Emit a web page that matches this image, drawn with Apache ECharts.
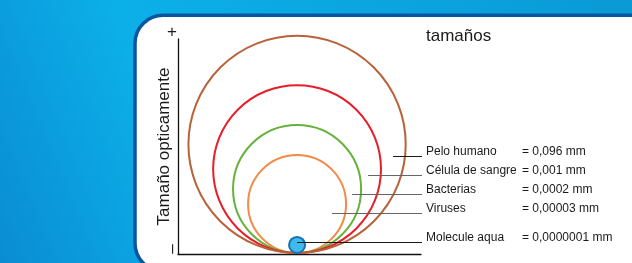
<!DOCTYPE html>
<html>
<head>
<meta charset="utf-8">
<script src="https://cdn.jsdelivr.net/npm/echarts@6/dist/echarts.min.js"></script>
<style>
    html, body { margin: 0; padding: 0; }
    #chart { width: 632px; height: 263px; }
</style>
</head>
<body>
<div id="chart"></div>
<script>
// datos
const categories = ['Pelo humano', 'Célula de sangre', 'Bacterias', 'Viruses', 'Molecule aqua'];
const measures = ['= 0,096 mm', '= 0,001 mm', '= 0,0002 mm', '= 0,00003 mm', '= 0,0000001 mm'];
// diametro visual (escala relativa 0-100 del eje "Tamaño")
const diameters = [102, 79, 60.5, 46.5, 8.4];
const axisEnds = ['–', '+'];

// layout de las lineas guia (unidades del eje)
const centerX = 49;
const leaderY = [45.4, 36.7, 27.9, 19.2, 5.8];
const leaderStartX = [88.5, 78.2, 71.6, 63.4, centerX];
const leaderEndX = 100;

const font = '"Liberation Sans", Arial, sans-serif';
const circleStyle = [
    { stroke: '#b8623a', fill: 'none' },
    { stroke: '#e61e2a', fill: 'none' },
    { stroke: '#67b13d', fill: 'none' },
    { stroke: '#f48a46', fill: 'none' },
    { stroke: '#1672b4', fill: '#3fbaec' }
];
const leaderColor = ['#1a1a1a', '#666', '#666', '#666', '#1a1a1a'];

let myChart = echarts.init(document.getElementById('chart'));

// orden de dibujo: el mas chico abajo, el marron encima, la molecula al final
const drawOrder = [3, 2, 1, 0, 4];

let option = {
    animation: false,
    title: {
        text: 'tamaños',
        left: 426,
        top: 28,
        padding: 0,
        textStyle: { fontFamily: font, fontSize: 17, fontWeight: 'normal', color: '#1a1a1a' }
    },
    graphic: [
        {
            type: 'rect', silent: true, z: -10,
            shape: { x: 0, y: 0, width: 632, height: 263 },
            style: {
                fill: new echarts.graphic.LinearGradient(0, 1, 1, 0, [
                    { offset: 0, color: '#0a8cd3' },
                    { offset: 0.3, color: '#0cb0e9' },
                    { offset: 1, color: '#0a9ad6' }
                ])
            }
        },
        {
            type: 'rect', silent: true, z: -9,
            shape: { x: 135, y: 15.3, width: 540, height: 256, r: [28, 0, 0, 28] },
            style: { fill: '#fff', stroke: '#0a55a0', lineWidth: 3.5 }
        },
        {
            type: 'text', x: 172, y: 32,
            style: { text: axisEnds[1], font: '17px ' + font, fill: '#1a1a1a', align: 'center', verticalAlign: 'middle' }
        },
        {
            type: 'text', x: 172, y: 249, rotation: Math.PI / 2,
            style: { text: axisEnds[0], font: '17px ' + font, fill: '#1a1a1a', align: 'center', verticalAlign: 'middle' }
        }
    ],
    grid: { left: 178, top: 39, right: 211, bottom: 9 },
    xAxis: {
        type: 'value', min: 0, max: 100,
        axisLine: { show: true, onZero: false, lineStyle: { color: '#111', width: 1.3 } },
        axisTick: { show: false },
        axisLabel: { show: false },
        splitLine: { show: false }
    },
    yAxis: {
        type: 'value', min: 0, max: 100,
        name: 'Tamaño opticamente',
        nameLocation: 'middle',
        nameGap: 5,
        nameTextStyle: { fontFamily: font, fontSize: 17, color: '#1a1a1a' },
        axisLine: { show: true, onZero: false, lineStyle: { color: '#111', width: 1.3 } },
        axisTick: { show: false },
        axisLabel: { show: false },
        splitLine: { show: false }
    },
    series: [
        {
            type: 'custom',
            clip: false,
            data: drawOrder.map(i => [centerX, diameters[i], i]),
            renderItem: function (params, api) {
                let d = api.value(1);
                let idx = api.value(2);
                let c = api.coord([api.value(0), d / 2]);
                let r = api.size([0, d])[1] / 2 - 1;
                return {
                    type: 'circle',
                    shape: { cx: c[0], cy: c[1], r: r },
                    style: { fill: circleStyle[idx].fill, stroke: circleStyle[idx].stroke, lineWidth: 2 }
                };
            }
        },
        {
            type: 'custom',
            clip: false,
            z: 3,
            data: categories.map((c, i) => [leaderStartX[i], leaderY[i], i]),
            renderItem: function (params, api) {
                let idx = api.value(2);
                let s = api.coord([api.value(0), api.value(1)]);
                let e = api.coord([leaderEndX, api.value(1)]);
                let y = Math.round(s[1]) + 0.5;
                return {
                    type: 'group',
                    children: [
                        {
                            type: 'line',
                            shape: { x1: s[0], y1: y, x2: e[0] + 1, y2: y },
                            style: { stroke: leaderColor[idx], lineWidth: 1 }
                        },
                        {
                            type: 'text', x: e[0] + 5, y: y - 5,
                            style: { text: categories[idx], font: '12px ' + font, fill: '#1a1a1a', align: 'left', verticalAlign: 'middle' }
                        },
                        {
                            type: 'text', x: e[0] + 101, y: y - 5,
                            style: { text: measures[idx], font: '12px ' + font, fill: '#1a1a1a', align: 'left', verticalAlign: 'middle' }
                        }
                    ]
                };
            }
        }
    ]
};

myChart.setOption(option);
</script>
</body>
</html>
